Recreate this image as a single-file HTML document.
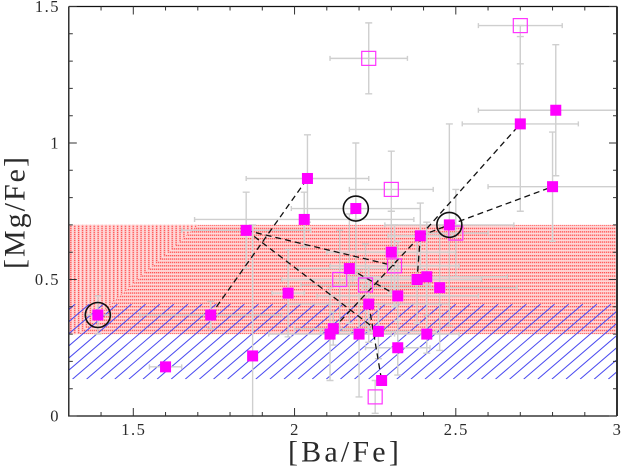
<!DOCTYPE html>
<html>
<head>
<meta charset="utf-8">
<title>[Mg/Fe] vs [Ba/Fe]</title>
<style>
html,body{margin:0;padding:0;background:#fff;width:621px;height:468px;overflow:hidden}
svg{display:block}
text{font-family:"Liberation Serif","DejaVu Serif",serif;fill:#2a2a2a}
</style>
</head>
<body>
<svg id="chart" width="621" height="468" viewBox="0 0 621 468" xmlns="http://www.w3.org/2000/svg">
<defs>
<clipPath id="plot-clip"><rect x="68.8" y="6.5" width="548.2" height="409.5"/></clipPath>
<pattern id="red-h" width="2" height="3.4" patternUnits="userSpaceOnUse">
<rect width="2" height="3.4" fill="#ffcccc"/>
<rect y="0" width="1" height="1.3" fill="#ff5555"/>
<rect x="1" y="0" width="1" height="1.3" fill="#ffb0b0"/>
<rect y="2" width="2" height="0.6" fill="#ffe6e6"/>
</pattern>
<pattern id="red-v" width="3.9" height="2" patternUnits="userSpaceOnUse">
<rect width="3.9" height="2" fill="#ffcccc"/>
<rect x="0" width="1.3" height="1" fill="#ff5555"/>
<rect x="0" y="1" width="1.3" height="1" fill="#ffb0b0"/>
<rect x="2.2" width="0.7" height="2" fill="#ffe6e6"/>
</pattern>
</defs>
</svg>
<script>
// Axis values
const xTicksMajor = [1.5, 2, 2.5, 3];
const yTicksMajor = [0, 0.5, 1, 1.5];
const xTickLabels = ['1.5', '2', '2.5', '3'];
const yTickLabels = ['0', '0.5', '1', '1.5'];
const xMinorTicks = [1.4, 1.6, 1.7, 1.8, 1.9, 2.1, 2.2, 2.3, 2.4, 2.6, 2.7, 2.8, 2.9];
const yMinorTicks = [0.1, 0.2, 0.3, 0.4, 0.6, 0.7, 0.8, 0.9, 1.1, 1.2, 1.3, 1.4];

// Shaded ranges in [Mg/Fe]
const redBand = [0.3, 0.7];
const blueBand = [0.135, 0.41];

// Filled stars
const filledBa = [1.39, 1.60, 1.74, 1.85, 1.87, 1.98, 2.03, 2.04, 2.11, 2.12, 2.17, 2.19, 2.20, 2.23, 2.26, 2.27, 2.30, 2.32, 2.32, 2.38, 2.39, 2.41, 2.41, 2.45, 2.48, 2.70, 2.80, 2.81];
const filledMg = [0.37, 0.18, 0.37, 0.68, 0.22, 0.45, 0.72, 0.87, 0.30, 0.32, 0.54, 0.76, 0.30, 0.41, 0.31, 0.13, 0.60, 0.44, 0.25, 0.50, 0.66, 0.51, 0.30, 0.47, 0.70, 1.07, 0.84, 1.12];
const filledBaErr = [0.04, 0.05, 0.22, 0.20, 0, 0.05, 0.34, 0.19, 0.19, 0.12, 0.16, 0.20, 0.10, 0.25, 0.18, 0, 0.20, 0.25, 0.10, 0.20, 0.10, 0.25, 0.10, 0.24, 0.20, 0.18, 0.20, 0.24];
const filledMgErr = [0.07, 0, 0.05, 0.14, 0.48, 0.16, 0.10, 0.16, 0.17, 0.06, 0.20, 0.24, 0.23, 0.14, 0.10, 0, 0.15, 0.20, 0.10, 0.16, 0.12, 0.20, 0.07, 0.23, 0.37, 0.32, 0.20, 0.24];

// Open stars
const openBa = [2.23, 2.70, 2.30, 2.50, 2.31, 2.14, 2.22, 2.25];
const openMg = [1.31, 1.43, 0.83, 0.67, 0.55, 0.50, 0.48, 0.07];
const openBaErr = [0.12, 0.13, 0.13, 0.10, 0.20, 0.18, 0.20, 0];
const openMgErrUp = [0.13, 0, 0.14, 0.16, 0.15, 0.18, 0.15, 0.06];
const openMgErrDown = [0.13, 0.14, 0.08, 0.16, 0.15, 0.18, 0.15, 0.06];

// Dashed connections
const linkFromBa = [1.74, 1.85, 1.85, 2.23, 2.17, 2.12, 2.39, 2.39, 2.39, 2.48];
const linkFromMg = [0.37, 0.68, 0.68, 0.41, 0.54, 0.32, 0.66, 0.66, 0.66, 0.70];
const linkToBa = [2.04, 2.31, 2.26, 2.27, 2.32, 2.39, 2.70, 2.38, 2.48, 2.80];
const linkToMg = [0.87, 0.55, 0.31, 0.13, 0.44, 0.66, 1.07, 0.50, 0.70, 0.84];

// Circled stars
const circledBa = [1.39, 2.19, 2.48];
const circledMg = [0.37, 0.76, 0.70];

const NS = 'http://www.w3.org/2000/svg';
const svg = document.getElementById('chart');
const sx = v => 68.8 + (v - 1.3) * 322.5;
const sy = v => 416 - v * 273;

function mk(tag, attrs, parent) {
  const el = document.createElementNS(NS, tag);
  for (const k in attrs) el.setAttribute(k, attrs[k]);
  (parent || svg).appendChild(el);
  return el;
}
function group(clipped) {
  const g = mk('g', clipped ? { 'clip-path': 'url(#plot-clip)' } : {});
  return g;
}

// Red band
const redGroup = group(true);


const ry0 = sy(redBand[1]), ry1 = sy(redBand[0]);
mk('rect', { x: 68.8, y: ry0, width: 548.2, height: ry1 - ry0, fill: 'url(#red-h)' }, redGroup);
mk('polygon', { points: `68.8,${ry0} 198,${ry0} 78,${ry1} 68.8,${ry1}`, fill: 'url(#red-v)' }, redGroup);

// Blue hatching
const blueGroup = group(true);


const by0 = sy(blueBand[1]), by1 = sy(blueBand[0]);
const slope = 0.86, hatchStep = 14.1;
const hatchClip = mk('clipPath', { id: 'hatch-clip' }, svg);
mk('rect', { x: 68.8, y: by0, width: 548.2, height: by1 - by0 }, hatchClip);
blueGroup.setAttribute('clip-path', 'url(#hatch-clip)');
for (let x = 72.5 - 14.1 * 8; x < 625; x += hatchStep) {
  mk('line', { x1: x, y1: by1, x2: x + (by1 - by0) / slope, y2: by0, stroke: '#4a4af0', 'stroke-width': 1 }, blueGroup);
}

// Error bars
function errBars(bas, mgs, xe, up, down, name) {
  const g = group(true);
  
  
  bas.forEach((b, i) => {
    const attr = { stroke: '#cfcfcf', 'stroke-width': 1.4, fill: 'none' };
    const px = sx(b), py = sy(mgs[i]);
    if (xe[i] > 0) {
      const a = sx(b - xe[i]), c = sx(b + xe[i]);
      mk('path', Object.assign({ d: `M${a} ${py}H${c}M${a} ${py - 2.5}v5M${c} ${py - 2.5}v5` }, attr), g);
    }
    if (up[i] > 0 || down[i] > 0) {
      const a = sy(mgs[i] + up[i]), c = sy(mgs[i] - down[i]);
      mk('path', Object.assign({ d: `M${px} ${a}V${c}M${px - 3.5} ${a}h7M${px - 3.5} ${c}h7` }, attr), g);
    }
  });
}
errBars(filledBa, filledMg, filledBaErr, filledMgErr, filledMgErr, 'filled-error-bars');
errBars(openBa, openMg, openBaErr, openMgErrUp, openMgErrDown, 'open-error-bars');

// Dashed links
const linkGroup = group(true);


linkFromBa.forEach((b, i) => {
  mk('line', { x1: sx(b), y1: sy(linkFromMg[i]), x2: sx(linkToBa[i]), y2: sy(linkToMg[i]), stroke: '#111', 'stroke-width': 1.3, 'stroke-dasharray': '6 4' }, linkGroup);
});

// Open squares
const openGroup = group(false);


openBa.forEach((b, i) => {
  const r = mk('rect', { x: sx(b) - 7, y: sy(openMg[i]) - 7, width: 14, height: 14, fill: 'none', stroke: '#ff33ff', 'stroke-width': 1.2 }, openGroup);
  
  
});

// Filled squares
const filledGroup = group(false);


filledBa.forEach((b, i) => {
  const r = mk('rect', { x: sx(b) - 5.5, y: sy(filledMg[i]) - 5.5, width: 11, height: 11, fill: '#ff00ff' }, filledGroup);
  
  
});

// Circles
circledBa.forEach((b, i) => {
  const c = mk('circle', { cx: sx(b), cy: sy(circledMg[i]), r: 12.5, fill: 'none', stroke: '#111', 'stroke-width': 1.6 });
  
  
});

// Frame and ticks
const axisGroup = group(false);


const L = 68.8, R = 617, T = 6.5, B = 416;
mk('path', { d: `M${L} ${T}H${R}M${L} ${T}V${B}H${R}`, stroke: '#111', 'stroke-width': 1.3, fill: 'none' }, axisGroup);
mk('line', { x1: R, y1: T, x2: R, y2: B, stroke: '#333', 'stroke-width': 2 }, axisGroup);
function xTick(v, len) {
  const x = sx(v);
  mk('path', { d: `M${x} ${B}v${-len}M${x} ${T}v${len}`, stroke: '#333', 'stroke-width': 1 }, axisGroup);
}
function yTick(v, len) {
  const y = sy(v);
  mk('path', { d: `M${L} ${y}h${len}M${R} ${y}h${-len}`, stroke: '#333', 'stroke-width': 1 }, axisGroup);
}
xMinorTicks.forEach(v => xTick(v, 4));
yMinorTicks.forEach(v => yTick(v, 4));
xTicksMajor.forEach(v => xTick(v, 8));
yTicksMajor.forEach(v => yTick(v, 8));

// Labels
xTicksMajor.forEach((v, i) => {
  const t = mk('text', { x: sx(v) + 0.5, y: 435, 'text-anchor': 'middle', 'font-size': 16.5, 'letter-spacing': 1.5 });
  t.textContent = xTickLabels[i];
  
  
});
yTicksMajor.forEach((v, i) => {
  const t = mk('text', { x: 60, y: sy(v) + 5.5, 'text-anchor': 'end', 'font-size': 16.5, 'letter-spacing': 1.5 });
  t.textContent = yTickLabels[i];
  
  
});
const xTitle = mk('text', { x: 345, y: 461.5, 'text-anchor': 'middle', 'font-size': 30, 'letter-spacing': 3.2 });
xTitle.textContent = '[Ba/Fe]';


const yTitle = mk('text', { x: 0, y: 0, 'text-anchor': 'middle', 'font-size': 30, 'letter-spacing': 2, transform: 'translate(24.5,212) rotate(-90)' });
yTitle.textContent = '[Mg/Fe]';


</script>
</body>
</html>
